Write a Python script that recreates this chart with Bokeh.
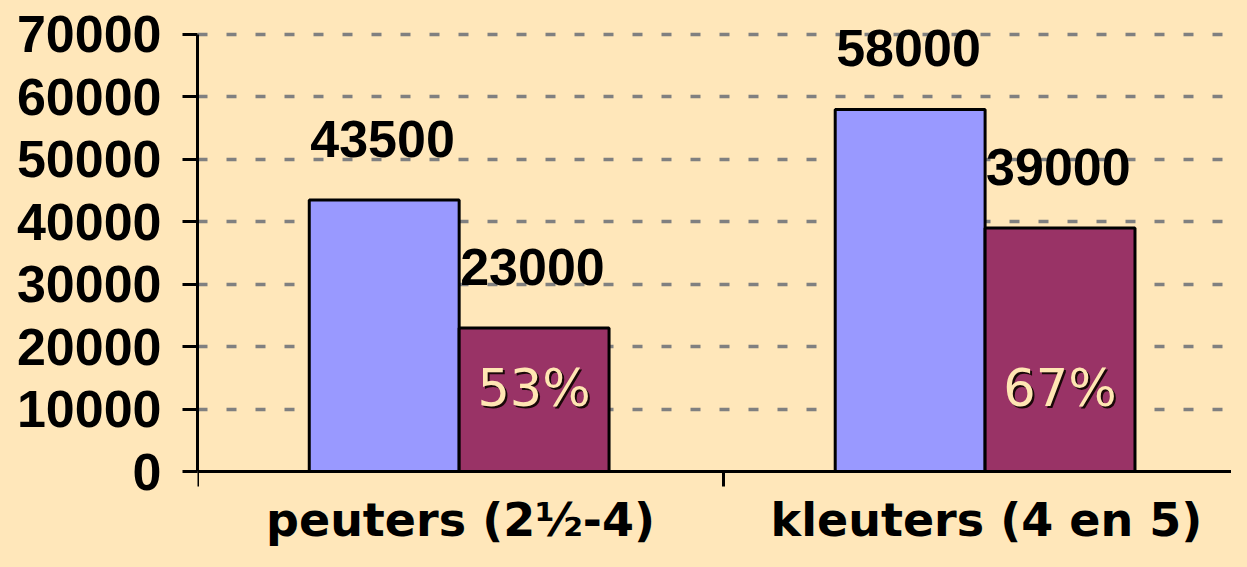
import numpy as np
from bokeh.plotting import figure
from bokeh.models import Range1d, FixedTicker, NumeralTickFormatter, ColumnDataSource
from bokeh.core.properties import value
from bokeh.embed import file_html
from bokeh.resources import INLINE

# ---- data ----
categories = ["peuters (2½-4)", "kleuters (4 en 5)"]
totaal = [43500, 58000]
deel = [23000, 39000]
percent_labels = ["53%", "67%"]
y_ticks = [0, 10000, 20000, 30000, 40000, 50000, 60000, 70000]

BG = "#FFE7BA"
BLUE = "#9999FF"
MAROON = "#993366"

idx = np.arange(len(categories))
bar_w = 0.285
x_blue = idx + 0.355
x_maroon = idx + 0.64
centers = idx + 0.5

src = ColumnDataSource(dict(
    x_blue=x_blue, x_maroon=x_maroon,
    xl_blue=x_blue - bar_w / 2, xl_maroon=x_maroon - bar_w / 2,
    totaal=totaal, deel=deel,
    totaal_txt=[str(v) for v in totaal], deel_txt=[str(v) for v in deel],
    pct=percent_labels, zero=[0] * len(categories),
))

# frame spans the full height; axis at y=0 is placed at a fixed location
p = figure(width=1231, height=551, output_backend="svg", toolbar_location=None,
           x_range=Range1d(0, 1.966), y_range=Range1d(-12814, 75446),
           min_border_left=197, min_border_top=0, min_border_right=0, min_border_bottom=0)
p.background_fill_color = BG
p.border_fill_color = BG
p.outline_line_color = None

# grid
p.xgrid.grid_line_color = None
p.ygrid.grid_line_color = "#808080"
p.ygrid.grid_line_width = 3.5
p.ygrid.grid_line_dash = "10 19"
p.ygrid.ticker = FixedTicker(ticks=y_ticks[1:])

# bars
p.vbar(x="x_blue", top="totaal", width=bar_w, source=src,
       fill_color=BLUE, line_color="black", line_width=3)
p.vbar(x="x_maroon", top="deel", width=bar_w, source=src,
       fill_color=MAROON, line_color="black", line_width=3)

# value labels
for xcol, ycol, tcol in [("xl_blue", "totaal", "totaal_txt"), ("xl_maroon", "deel", "deel_txt")]:
    p.text(x=xcol, y=ycol, text=tcol, source=src, x_offset=1, y_offset=-61,
           text_align="left", text_baseline="alphabetic",
           text_font=value("Liberation Sans"), text_font_style="bold",
           text_font_size="52px", text_color="black")

# percent labels with shadow
p.text(x="x_maroon", y="zero", text="pct", source=src, x_offset=2, y_offset=-81,
       text_align="center", text_baseline="alphabetic",
       text_font=value("DejaVu Sans"), text_font_size="51px", text_color="#1a0808")
p.text(x="x_maroon", y="zero", text="pct", source=src, x_offset=0, y_offset=-83,
       text_align="center", text_baseline="alphabetic",
       text_font=value("DejaVu Sans"), text_font_size="51px", text_color="#FFE6B3")

# y axis
ya = p.yaxis[0]
ya.bounds = (0, 70000)
ya.ticker = FixedTicker(ticks=y_ticks)
ya.formatter = NumeralTickFormatter(format="0")
ya.axis_line_width = 3
ya.axis_line_color = "black"
ya.major_tick_line_width = 3
ya.major_tick_out = 15
ya.major_tick_in = 0
ya.minor_tick_line_color = None
ya.major_label_standoff = 21
ya.major_label_text_font = "Liberation Sans"
ya.major_label_text_font_style = "bold"
ya.major_label_text_font_size = "52px"
ya.major_label_text_color = "black"

# x axis at y = 0, ticks at category boundaries, labels at category centres
xa = p.xaxis[0]
xa.fixed_location = 0
bounds = list(np.arange(len(categories) + 1))
xa.ticker = FixedTicker(ticks=list(centers), minor_ticks=bounds)
xa.major_label_overrides = {float(c): cat for c, cat in zip(centers, categories)}
xa.axis_line_width = 3
xa.axis_line_color = "black"
xa.major_tick_line_color = None
xa.major_tick_out = 15
xa.major_tick_in = 0
xa.minor_tick_line_color = "black"
xa.minor_tick_line_width = 3
xa.minor_tick_out = 15
xa.minor_tick_in = 0
xa.major_label_standoff = 6
xa.major_label_text_font = "DejaVu Sans"
xa.major_label_text_font_style = "bold"
xa.major_label_text_font_size = "46px"
xa.major_label_text_color = "black"

html = file_html(p, INLINE)
html = html.replace("<head>", "<head><style>html,body{background:%s;}</style>" % BG, 1)
open("out.html", "w").write(html)
